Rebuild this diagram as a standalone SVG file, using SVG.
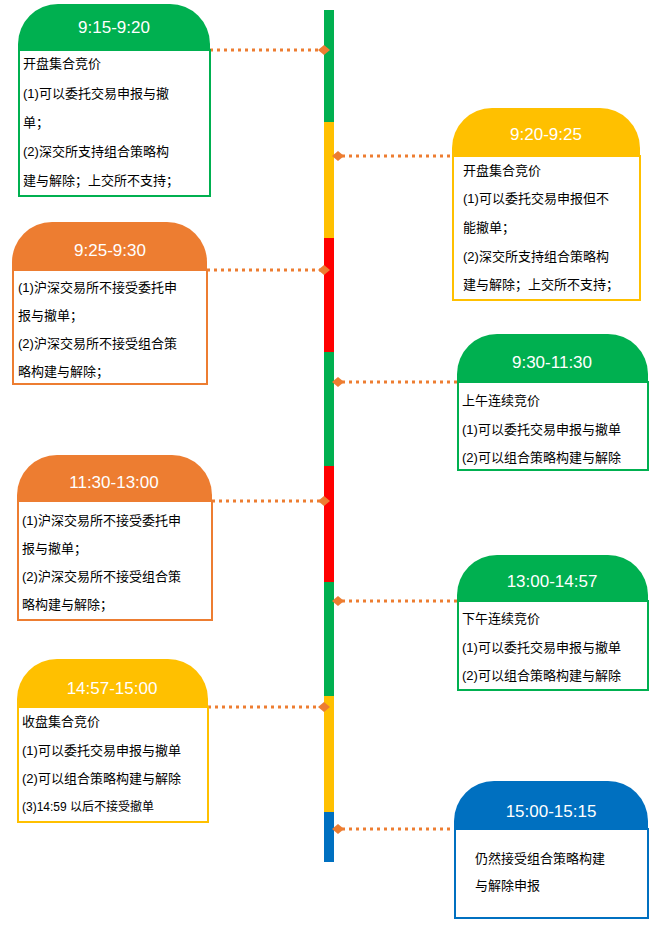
<svg xmlns="http://www.w3.org/2000/svg" width="661" height="928" viewBox="0 0 661 928">
<style>
text{font-family:"Liberation Sans","Noto Sans CJK SC",sans-serif}
.h{fill:#fff;font-size:17px;text-anchor:middle}
.b{fill:#000;font-size:13px}
.box{fill:#fff;stroke-width:2}
.c{stroke:#ED7D31;stroke-width:3;stroke-dasharray:3 4;fill:none}
.d{fill:#ED7D31}
</style>
<rect width="661" height="928" fill="#fff"/>
<g id="bar">
<rect x="324" y="10" width="10" height="112" fill="#00B050"/>
<rect x="324" y="122" width="10" height="116" fill="#FFC000"/>
<rect x="324" y="238" width="10" height="114" fill="#FF0000"/>
<rect x="324" y="352" width="10" height="114" fill="#00B050"/>
<rect x="324" y="466" width="10" height="116" fill="#FF0000"/>
<rect x="324" y="582" width="10" height="114" fill="#00B050"/>
<rect x="324" y="696" width="10" height="116" fill="#FFC000"/>
<rect x="324" y="812" width="10" height="50" fill="#0070C0"/>
</g>
<g id="connectors">
<path class="c" d="M210 50H320"/><path class="d" d="M318 50l6-5 6 5-6 5z"/>
<path class="c" d="M342 156H452"/><path class="d" d="M332 156l6-5 6 5-6 5z"/>
<path class="c" d="M207 270H320"/><path class="d" d="M318 270l6-5 6 5-6 5z"/>
<path class="c" d="M342 382H457"/><path class="d" d="M332 382l6-5 6 5-6 5z"/>
<path class="c" d="M212 501H320"/><path class="d" d="M318 501l6-5 6 5-6 5z"/>
<path class="c" d="M342 601H457"/><path class="d" d="M332 601l6-5 6 5-6 5z"/>
<path class="c" d="M208 707H320"/><path class="d" d="M318 707l6-5 6 5-6 5z"/>
<path class="c" d="M342 829H454"/><path class="d" d="M332 829l6-5 6 5-6 5z"/>
</g>
<g id="n1">
<rect class="box" x="19" y="50" width="191" height="146" stroke="#00B050"/>
<path d="M18 51V44A40 40 0 0 1 58 4H170A40 40 0 0 1 210 44V51Z" fill="#00B050"/>
<text class="h" x="114" y="33">9:15-9:20</text>
<text class="b" x="23" y="68">开盘集合竞价</text>
<text class="b" x="23" y="98">(1)可以委托交易申报与撤</text>
<text class="b" x="23" y="127">单；</text>
<text class="b" x="23" y="156">(2)深交所支持组合策略构</text>
<text class="b" x="23" y="185">建与解除；上交所不支持；</text>
</g>
<g id="n2">
<rect class="box" x="453" y="156" width="187" height="144" stroke="#FFC000"/>
<path d="M452 157V148A40 40 0 0 1 492 108H600A40 40 0 0 1 640 148V157Z" fill="#FFC000"/>
<text class="h" x="546" y="140">9:20-9:25</text>
<text class="b" x="463" y="175">开盘集合竞价</text>
<text class="b" x="463" y="203">(1)可以委托交易申报但不</text>
<text class="b" x="463" y="232">能撤单；</text>
<text class="b" x="463" y="261">(2)深交所支持组合策略构</text>
<text class="b" x="463" y="289">建与解除；上交所不支持；</text>
</g>
<g id="n3">
<rect class="box" x="13" y="270" width="194" height="114" stroke="#ED7D31"/>
<path d="M12 271V262A40 40 0 0 1 52 222H167A40 40 0 0 1 207 262V271Z" fill="#ED7D31"/>
<text class="h" x="110" y="256">9:25-9:30</text>
<text class="b" x="18" y="292">(1)沪深交易所不接受委托申</text>
<text class="b" x="18" y="320">报与撤单；</text>
<text class="b" x="18" y="348">(2)沪深交易所不接受组合策</text>
<text class="b" x="18" y="376">略构建与解除；</text>
</g>
<g id="n4">
<rect class="box" x="458" y="382" width="190" height="88" stroke="#00B050"/>
<path d="M457 383V374A40 40 0 0 1 497 334H608A40 40 0 0 1 648 374V383Z" fill="#00B050"/>
<text class="h" x="552" y="368">9:30-11:30</text>
<text class="b" x="462" y="405">上午连续竞价</text>
<text class="b" x="462" y="434">(1)可以委托交易申报与撤单</text>
<text class="b" x="462" y="462">(2)可以组合策略构建与解除</text>
</g>
<g id="n5">
<rect class="box" x="18" y="501" width="194" height="119" stroke="#ED7D31"/>
<path d="M17 502V495A40 40 0 0 1 57 455H172A40 40 0 0 1 212 495V502Z" fill="#ED7D31"/>
<text class="h" x="114" y="488">11:30-13:00</text>
<text class="b" x="22" y="525">(1)沪深交易所不接受委托申</text>
<text class="b" x="22" y="553">报与撤单；</text>
<text class="b" x="22" y="581">(2)沪深交易所不接受组合策</text>
<text class="b" x="22" y="609">略构建与解除；</text>
</g>
<g id="n6">
<rect class="box" x="458" y="601" width="190" height="89" stroke="#00B050"/>
<path d="M457 602V595A40 40 0 0 1 497 555H608A40 40 0 0 1 648 595V602Z" fill="#00B050"/>
<text class="h" x="552" y="587">13:00-14:57</text>
<text class="b" x="462" y="623">下午连续竞价</text>
<text class="b" x="462" y="652">(1)可以委托交易申报与撤单</text>
<text class="b" x="462" y="680">(2)可以组合策略构建与解除</text>
</g>
<g id="n7">
<rect class="box" x="18" y="707" width="190" height="115" stroke="#FFC000"/>
<path d="M17 708V699A40 40 0 0 1 57 659H168A40 40 0 0 1 208 699V708Z" fill="#FFC000"/>
<text class="h" x="112" y="694">14:57-15:00</text>
<text class="b" x="22" y="726">收盘集合竞价</text>
<text class="b" x="22" y="755">(1)可以委托交易申报与撤单</text>
<text class="b" x="22" y="783">(2)可以组合策略构建与解除</text>
<text class="b" x="22" y="811" style="font-size:12px">(3)14:59 以后不接受撤单</text>
</g>
<g id="n8">
<rect class="box" x="455" y="829" width="193" height="89" stroke="#0070C0"/>
<path d="M454 830V821A40 40 0 0 1 494 781H608A40 40 0 0 1 648 821V830Z" fill="#0070C0"/>
<text class="h" x="551" y="817">15:00-15:15</text>
<text class="b" x="475" y="863">仍然接受组合策略构建</text>
<text class="b" x="475" y="890">与解除申报</text>
</g>
</svg>
